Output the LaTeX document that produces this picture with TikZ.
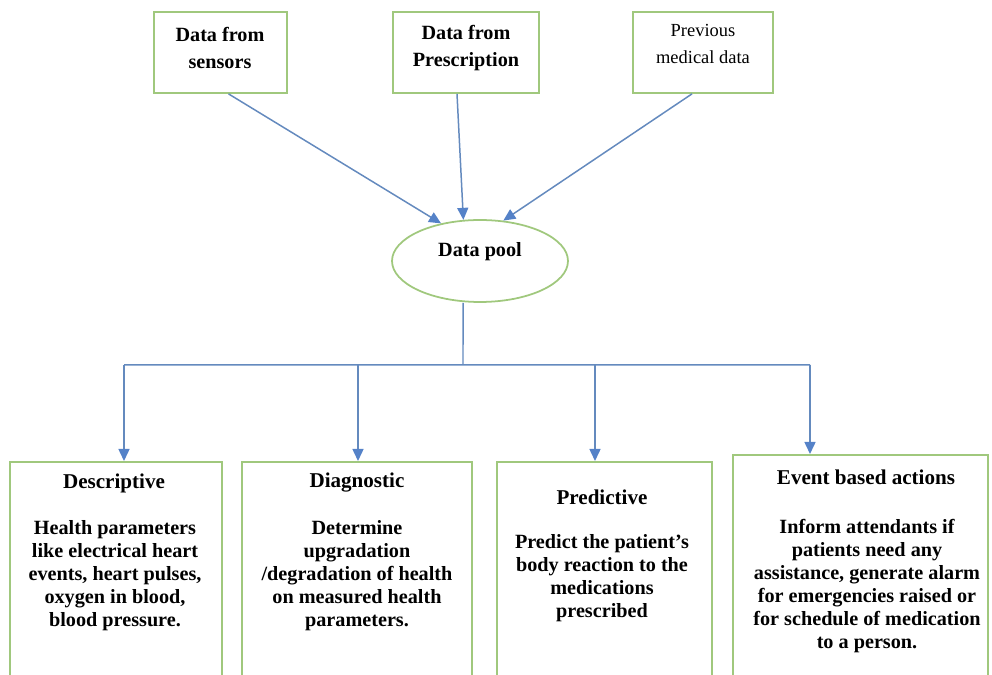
\documentclass[tikz,border=0pt]{standalone}
\usepackage{fontspec}
\setmainfont{Liberation Serif}
\usetikzlibrary{arrows.meta,shapes.geometric}
\definecolor{boxgreen}{RGB}{160,200,125}
\definecolor{linkblue}{RGB}{100,138,190}
\definecolor{tipblue}{RGB}{85,130,200}

\begin{document}
\begin{tikzpicture}[x=0.02cm,y=-0.02cm,
  srcbox/.style={draw=boxgreen,line width=1pt,minimum height=1.62cm},
  srctext/.style={align=center,font=\bfseries\fontsize{11.5}{15.5}\selectfont},
  pool/.style={draw=boxgreen,line width=1pt,ellipse,inner sep=0pt,
    minimum width=3.52cm,minimum height=1.64cm},
  outbox/.style={draw=boxgreen,line width=1pt,anchor=north,minimum height=4.8cm},
  head/.style={font=\bfseries\fontsize{12}{14}\selectfont},
  body/.style={align=center,font=\bfseries\fontsize{11.5}{13.1}\selectfont},
  link/.style={draw=linkblue,line width=0.85pt},
  tip/.style={-{Triangle[length=0.24cm,width=0.22cm,color=tipblue]}}]
\path[use as bounding box] (0,0) rectangle (992,675);
\clip (0,0) rectangle (992,675);

\draw (220.5, 52.5) node[srcbox, minimum width=2.66cm] (sens) {} ;
\draw (220, 48) node[srctext] (senst) {Data from\\sensors} ;

\draw (466, 52.5) node[srcbox, minimum width=2.92cm] (presc) {} ;
\draw (466, 48) node[srctext] (presct) {Data from\\Prescription} ;

\draw (703, 52.5) node[srcbox, minimum width=2.8cm] (prev) {} ;
\draw (703, 44) node[srctext, font=\fontsize{10.5}{15.5}\selectfont] (prevt) {Previous\\medical data} ;

\draw (480, 261) node[pool] (pool) {} ;
\draw (480, 252) node[head, font=\bfseries\fontsize{11.5}{14}\selectfont] (poolt) {Data pool} ;

\draw (116, 461) node[outbox, minimum width=4.24cm] (desc) {} ;
\draw (114, 483) node[head] (desch) {Descriptive} ;
\draw (115, 576) node[body] (descb) {Health parameters\\like electrical heart\\events, heart pulses,\\oxygen in blood,\\blood pressure.} ;

\draw (357, 461) node[outbox, minimum width=4.6cm] (diag) {} ;
\draw (357, 483) node[head] (diagh) {Diagnostic} ;
\draw (357, 576) node[body] (diagb) {Determine\\upgradation\\/degradation of health\\on measured health\\parameters.} ;

\draw (604.5, 461) node[outbox, minimum width=4.3cm] (pred) {} ;
\draw (602, 497) node[head] (predh) {Predictive} ;
\draw (602, 578) node[body] (predb) {Predict the patient’s\\body reaction to the\\medications\\prescribed} ;

\draw (860.5, 454) node[outbox, minimum width=5.1cm] (event) {} ;
\draw (866, 477) node[head] (eventh) {Event based actions} ;
\draw (867, 586.5) node[body] (eventb) {Inform attendants if\\patients need any\\assistance, generate alarm\\for emergencies raised or\\for schedule of medication\\to a person.} ;

\coordinate (jc) at (463, 365) ;
\coordinate (j1) at (124, 365) ;
\coordinate (j2) at (358, 365) ;
\coordinate (j3) at (595, 365) ;
\coordinate (j4) at (810, 365) ;

\draw[link]
     ([xshift=0.16cm]sens.south) edge[tip] (pool.136)
     ([xshift=-0.18cm]presc.south) edge[tip] (pool.112)
     ([xshift=-0.22cm]prev.south) edge[tip] (pool.60) ;

\draw[link]
     ([xshift=-0.34cm]pool.south) to (jc)
     (j1) to (j4) ;

\draw[link]
     (j1) edge[tip] (j1 |- desc.north)
     (j2) edge[tip] (j2 |- diag.north)
     (j3) edge[tip] (j3 |- pred.north)
     (j4) edge[tip] (j4 |- event.north) ;
\end{tikzpicture}
\end{document}
